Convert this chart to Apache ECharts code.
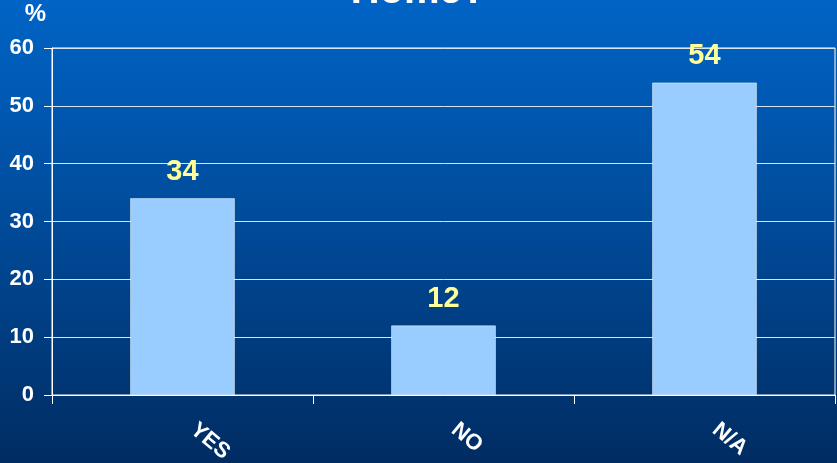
<!DOCTYPE html>
<html>
<head>
<meta charset="utf-8">
<script src="https://cdn.jsdelivr.net/npm/echarts@6/dist/echarts.min.js"></script>
<style>
  html, body { margin: 0; padding: 0; }
  #main { width: 837px; height: 463px; }
</style>
</head>
<body>
<div id="main"></div>
<script>
var categories = ['YES', 'NO', 'N/A'];
var values = [34, 12, 54];
var yTicks = [0, 10, 20, 30, 40, 50, 60];

var myChart = echarts.init(document.getElementById('main'));
var font = 'Arial, "Liberation Sans", sans-serif';

var option = {
    backgroundColor: {
        type: 'linear', x: 0, y: 0, x2: 0, y2: 1,
        colorStops: [
            { offset: 0, color: '#0064c6' },
            { offset: 0.5, color: '#004a98' },
            { offset: 1, color: '#002c62' }
        ]
    },
    title: {
        text: 'Home?',
        left: 'center',
        top: -33,
        textStyle: { color: '#ffffff', fontSize: 40, fontWeight: 'bold', fontFamily: font }
    },
    grid: {
        left: 52,
        right: 2,
        top: 48,
        bottom: 68,
        outerBoundsMode: 'none',
        containLabel: false,
        show: true,
        borderColor: '#ffffff',
        borderWidth: 1
    },
    xAxis: {
        type: 'category',
        data: categories,
        axisLine: { lineStyle: { color: '#ffffff', width: 1 } },
        axisTick: { show: true, length: 9, lineStyle: { color: '#ffffff' } },
        axisLabel: {
            color: '#ffffff',
            fontSize: 22,
            fontWeight: 'bold',
            fontFamily: font,
            rotate: -40,
            margin: 23,
            padding: [0, 0, 0, 14]
        }
    },
    yAxis: {
        type: 'value',
        name: '%',
        nameLocation: 'end',
        nameGap: 22,
        nameTextStyle: { color: '#ffffff', fontSize: 24, fontWeight: 'bold', fontFamily: font, align: 'right', padding: [0, 6, 0, 0] },
        min: yTicks[0],
        max: yTicks[yTicks.length - 1],
        interval: 10,
        axisLine: { show: true, lineStyle: { color: '#ffffff' } },
        axisTick: { show: true, length: 8, lineStyle: { color: '#ffffff' } },
        axisLabel: { color: '#ffffff', fontSize: 22, fontWeight: 'bold', fontFamily: font, margin: 18 },
        splitLine: { lineStyle: { color: '#d8e4f0', width: 1 } }
    },
    series: [{
        type: 'bar',
        data: values,
        barWidth: '40%',
        itemStyle: { color: '#99ccff', borderColor: '#ffffff', borderWidth: 0.5 },
        label: {
            show: true,
            position: 'top',
            distance: 12,
            color: '#ffff99',
            fontSize: 29,
            fontWeight: 'bold',
            fontFamily: font
        }
    }]
};
myChart.setOption(option);
</script>
</body>
</html>
